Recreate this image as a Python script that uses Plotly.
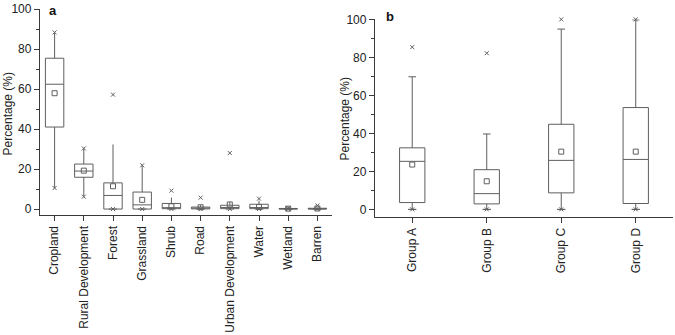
import plotly.graph_objects as go

# ---------------- data ----------------
cats_a = ["Cropland", "Rural Development", "Forest", "Grassland", "Shrub", "Road",
          "Urban Development", "Water", "Wetland", "Barren"]
a_q1 = [41.0, 15.9, 0.0, 0.0, 0.2, 0.1, 0.2, 0.2, 0.0, 0.0]
a_med = [62.4, 19.0, 6.8, 2.1, 0.7, 0.4, 0.8, 0.8, 0.1, 0.1]
a_q3 = [75.4, 22.5, 13.1, 8.5, 2.8, 1.0, 1.9, 2.4, 0.3, 0.4]
a_lo = [10.5, 6.2, 0.0, 0.0, 0.0, 0.0, 0.0, 0.0, 0.0, 0.0]
a_hi = [88.3, 30.3, 32.3, 21.5, 5.7, 2.0, 3.5, 4.2, 0.5, 0.8]
a_mean = [57.9, 19.2, 11.4, 4.6, 1.4, 0.9, 2.3, 1.0, 0.2, 0.3]
a_p99 = [88.3, 30.3, 57.2, 21.9, 9.2, 5.7, 28.0, 5.2, 0.6, 1.8]
a_p1 = [10.5, 6.2, 0.0, 0.0, 0.0, 0.0, 0.0, 0.0, 0.0, 0.0]

cats_b = ["Group A", "Group B", "Group C", "Group D"]
b_q1 = [3.6, 2.9, 8.7, 3.1]
b_med = [25.3, 8.3, 25.8, 26.3]
b_q3 = [32.4, 20.9, 44.8, 53.6]
b_lo = [0.0, 0.0, 0.0, 0.0]
b_hi = [69.8, 39.7, 94.9, 99.8]
b_mean = [23.6, 14.8, 30.4, 30.4]
b_p99 = [85.4, 82.2, 100.0, 100.0]
b_p1 = [0.0, 0.0, 0.0, 0.0]

yticks = [0, 20, 40, 60, 80, 100]

# ---------------- style ----------------
GREY = "#5f5f5f"
AXC = "#3a3a3a"
FONT = "Liberation Sans, Arial, sans-serif"

fig = go.Figure()


def add_panel(cats, q1, med, q3, lo, hi, mean, p99, p1, xa, ya, bw, ww):
    fig.add_trace(go.Box(
        x=cats, q1=q1, median=med, q3=q3, lowerfence=lo, upperfence=hi,
        xaxis=xa, yaxis=ya, width=bw, whiskerwidth=ww,
        fillcolor="white", line=dict(color=GREY, width=1),
        boxpoints=False, showlegend=False, hoverinfo="skip"))
    fig.add_trace(go.Scatter(
        x=cats, y=mean, mode="markers", xaxis=xa, yaxis=ya,
        marker=dict(symbol="square-open", size=5, color=GREY, line=dict(width=1)),
        showlegend=False, cliponaxis=False))
    fig.add_trace(go.Scatter(
        x=cats + cats, y=p99 + p1, mode="markers", xaxis=xa, yaxis=ya,
        marker=dict(symbol="x-thin-open", size=4, color=GREY, line=dict(width=1, color=GREY)),
        showlegend=False, cliponaxis=False))
    zero_cats = [c for c, v in zip(cats, p1) if v == 0]
    fig.add_trace(go.Scatter(
        x=zero_cats, y=[0] * len(zero_cats), mode="markers", xaxis=xa, yaxis=ya,
        marker=dict(symbol="line-ew-open", size=6, color=GREY, line=dict(width=1, color=GREY)),
        showlegend=False, cliponaxis=False))


add_panel(cats_a, a_q1, a_med, a_q3, a_lo, a_hi, a_mean, a_p99, a_p1, "x", "y", 0.63, 0)
add_panel(cats_b, b_q1, b_med, b_q3, b_lo, b_hi, b_mean, b_p99, b_p1, "x2", "y2", 0.34, 0.3)

axis_common = dict(showline=True, linecolor=AXC, linewidth=1.3, showgrid=False, zeroline=False,
                   ticks="outside", ticklen=5, tickcolor=AXC, tickwidth=1,
                   tickfont=dict(family=FONT, size=12, color="#222222"))

fig.update_layout(
    width=675, height=335,
    margin=dict(l=40, r=2, t=5, b=115),
    plot_bgcolor="white", paper_bgcolor="white",
    showlegend=False,
    xaxis=dict(domain=[0, 0.4613], type="category", categoryorder="array", categoryarray=cats_a,
               range=[-0.5, 9.5], tickangle=-90, anchor="y", **axis_common),
    yaxis=dict(domain=[0.0093, 1.0], range=[-3, 100], tickvals=yticks, anchor="x",
               minor=dict(ticks="outside", ticklen=3, tickcolor=AXC, dtick=10, tick0=0),
               **axis_common),
    xaxis2=dict(domain=[0.5292, 1.0], type="category", categoryorder="array", categoryarray=cats_b,
                range=[-0.5, 3.5], tickangle=-90, anchor="y2", **axis_common),
    yaxis2=dict(domain=[0.0, 0.950], range=[-4, 100], tickvals=yticks, anchor="x2",
                minor=dict(ticks="outside", ticklen=3, tickcolor=AXC, dtick=10, tick0=0),
                **axis_common),
    annotations=[
        dict(text="Percentage (%)", x=-0.0506, y=0.498, xref="paper", yref="paper",
             xanchor="center", yanchor="middle",
             textangle=-90, showarrow=False, font=dict(family=FONT, size=12, color="#222222")),
        dict(text="Percentage (%)", x=0.4818, y=0.474, xref="paper", yref="paper",
             xanchor="center", yanchor="middle",
             textangle=-90, showarrow=False, font=dict(family=FONT, size=12, color="#222222")),
        dict(text="<b>a</b>", x=0.0205, y=0.995, xref="paper", yref="paper", showarrow=False,
             xanchor="center", yanchor="middle",
             font=dict(family=FONT, size=13, color="#111111")),
        dict(text="<b>b</b>", x=0.553, y=0.963, xref="paper", yref="paper", showarrow=False,
             xanchor="center", yanchor="middle",
             font=dict(family=FONT, size=13, color="#111111")),
    ],
)

fig.write_html("out.html", config={"displayModeBar": False},
               post_script="document.body.style.margin='0px';")
